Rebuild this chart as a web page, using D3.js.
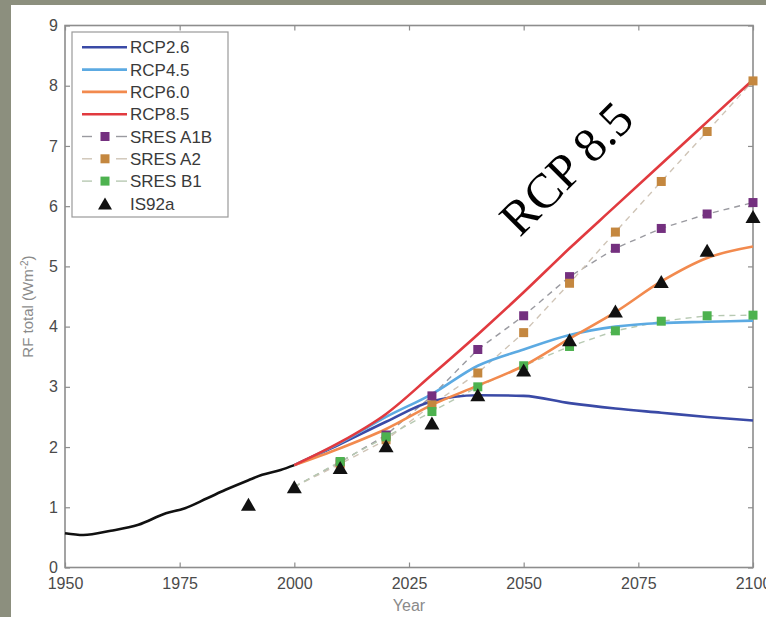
<!DOCTYPE html>
<html>
<head>
<meta charset="utf-8">
<script src="https://cdn.jsdelivr.net/npm/d3@7"></script>
<style>
  body { margin: 0; background: #8c8f7e; }
  svg { display: block; }
  text { font-family: "Liberation Sans", Arial, sans-serif; }
</style>
</head>
<body>
<svg id="chart" width="766" height="617"></svg>
<script>
// historical forcing (black line)
const histYears  = [1950, 1954, 1960, 1966, 1972, 1976, 1981, 1985, 1990, 1993, 1997, 2000]
const histValues = [0.57, 0.54, 0.61, 0.71, 0.90, 0.98, 1.15, 1.29, 1.45, 1.54, 1.62, 1.70]

// RCP pathways
const rcpYears = [2000, 2010, 2020, 2030, 2040, 2050, 2060, 2070, 2080, 2090, 2100]
const rcp26 = [1.70, 2.05, 2.42, 2.76, 2.86, 2.85, 2.73, 2.64, 2.57, 2.50, 2.44]
const rcp45 = [1.70, 2.07, 2.50, 2.88, 3.35, 3.62, 3.86, 4.00, 4.06, 4.08, 4.10]
const rcp60 = [1.70, 1.98, 2.30, 2.70, 3.02, 3.35, 3.80, 4.24, 4.75, 5.14, 5.33]
const rcp85 = [1.70, 2.08, 2.55, 3.20, 3.87, 4.57, 5.30, 6.00, 6.70, 7.40, 8.10]

// SRES scenarios (squares + dashed)
const sresYears = [2000, 2010, 2020, 2030, 2040, 2050, 2060, 2070, 2080, 2090, 2100]
const sresA1B = [1.34, 1.75, 2.20, 2.85, 3.62, 4.18, 4.83, 5.30, 5.63, 5.87, 6.06]
const sresA2  = [1.34, 1.72, 2.12, 2.70, 3.23, 3.90, 4.72, 5.57, 6.41, 7.24, 8.08]
const sresB1  = [1.34, 1.76, 2.17, 2.59, 3.00, 3.35, 3.67, 3.93, 4.09, 4.18, 4.19]

// IS92a (triangles)
const is92aYears  = [1990, 2000, 2010, 2020, 2030, 2040, 2050, 2060, 2070, 2080, 2090, 2100]
const is92aValues = [1.05, 1.34, 1.66, 2.02, 2.40, 2.87, 3.28, 3.78, 4.26, 4.75, 5.27, 5.83]

const xTicks = [1950, 1975, 2000, 2025, 2050, 2075, 2100]
const yTicks = [0, 1, 2, 3, 4, 5, 6, 7, 8, 9]

const rcpSeries = [
  { name: "RCP2.6", values: rcp26, color: "#3a4aa6" },
  { name: "RCP4.5", values: rcp45, color: "#5caae2" },
  { name: "RCP6.0", values: rcp60, color: "#f28a4e" },
  { name: "RCP8.5", values: rcp85, color: "#e13a3f" }
]
const sresSeries = [
  { name: "SRES A1B", values: sresA1B, color: "#74307f", dash: "#9a9aa0" },
  { name: "SRES A2",  values: sresA2,  color: "#c4873f", dash: "#cfc4b6" },
  { name: "SRES B1",  values: sresB1,  color: "#4db24f", dash: "#b7c9b2" }
]

const svg = d3.select("#chart")

// white slide panel
svg.append("rect").attr("x", 11).attr("y", 5).attr("width", 755).attr("height", 612).attr("fill", "#fff")

const margin = { top: 25.5, right: 13, bottom: 49.5, left: 65 }
const width = 766, height = 617
const innerW = width - margin.left - margin.right
const innerH = height - margin.top - margin.bottom

const x = d3.scaleLinear().domain([1950, 2100]).range([0, innerW])
const y = d3.scaleLinear().domain([0, 9]).range([innerH, 0])

const g = svg.append("g").attr("transform", `translate(${margin.left},${margin.top})`)

const axisColor = "#8d8d8d"

// axes, matlab style with inward ticks on all four sides
const styleAxis = sel => {
  sel.select(".domain").remove()
  sel.selectAll(".tick line").attr("stroke", axisColor).attr("stroke-width", 1.2)
  sel.selectAll(".tick text").attr("fill", "#4a4a4a").style("font-size", "16px")
    .style("font-family", '"Liberation Sans", Arial, sans-serif')
}

g.append("g").attr("transform", `translate(0,${innerH})`)
  .call(d3.axisBottom(x).tickValues(xTicks).tickFormat(d3.format("d")).tickSize(-5).tickPadding(10.5))
  .call(styleAxis)
g.append("g")
  .call(d3.axisTop(x).tickValues(xTicks).tickFormat("").tickSize(-5))
  .call(styleAxis)
g.append("g")
  .call(d3.axisLeft(y).tickValues(yTicks).tickSize(-5).tickPadding(7))
  .call(styleAxis)
g.append("g").attr("transform", `translate(${innerW},0)`)
  .call(d3.axisRight(y).tickValues(yTicks).tickFormat("").tickSize(-5))
  .call(styleAxis)

g.append("rect").attr("width", innerW).attr("height", innerH)
  .attr("fill", "none").attr("stroke", axisColor).attr("stroke-width", 1.6)

// axis titles
g.append("text").attr("x", innerW / 2).attr("y", innerH + 43)
  .attr("text-anchor", "middle").attr("fill", "#8a8a8a").style("font-size", "16px").text("Year")

const yt = g.append("text").attr("transform", `translate(-32,${innerH / 2 + 10}) rotate(-90)`)
  .attr("text-anchor", "middle").attr("fill", "#8a8a8a").style("font-size", "15px")
yt.append("tspan").text("RF total (Wm")
yt.append("tspan").attr("dy", -5).style("font-size", "10px").text("-2")
yt.append("tspan").attr("dy", 5).text(")")

const smooth = d3.line().x(d => x(d[0])).y(d => y(d[1])).curve(d3.curveMonotoneX)
const straight = d3.line().x(d => x(d[0])).y(d => y(d[1]))

// historical
g.append("path").datum(d3.zip(histYears, histValues)).attr("d", smooth)
  .attr("fill", "none").attr("stroke", "#111").attr("stroke-width", 2.6)

// SRES dashed connectors
sresSeries.forEach(s => {
  g.append("path").datum(d3.zip(sresYears, s.values)).attr("d", straight)
    .attr("fill", "none").attr("stroke", s.dash).attr("stroke-width", 1.4)
    .attr("stroke-dasharray", "6,5")
})

// RCP lines
rcpSeries.forEach(s => {
  g.append("path").datum(d3.zip(rcpYears, s.values)).attr("d", smooth)
    .attr("fill", "none").attr("stroke", s.color).attr("stroke-width", 2.6)
})

// SRES squares (no marker at 2000, hidden behind IS92a there)
const sq = 9
sresSeries.forEach(s => {
  g.append("g").selectAll("rect")
    .data(d3.zip(sresYears, s.values).filter(d => d[0] > 2000))
    .join("rect")
    .attr("x", d => x(d[0]) - sq / 2).attr("y", d => y(d[1]) - sq / 2)
    .attr("width", sq).attr("height", sq).attr("fill", s.color)
})

// IS92a triangles
const tri = (w, h) => `M0,${-h / 2}L${w / 2},${h / 2}L${-w / 2},${h / 2}Z`
g.append("g").selectAll("path")
  .data(d3.zip(is92aYears, is92aValues))
  .join("path")
  .attr("transform", d => `translate(${x(d[0])},${y(d[1])})`)
  .attr("d", tri(15, 13)).attr("fill", "#111")

// big annotation
svg.append("text").attr("transform", "translate(570,172) rotate(-45)")
  .attr("text-anchor", "middle").attr("dominant-baseline", "middle")
  .style("font-family", '"Liberation Serif", "Times New Roman", serif')
  .style("font-size", "49px").attr("fill", "#000").text("RCP 8.5")

// legend
const legend = svg.append("g").attr("transform", "translate(72,32)")
legend.append("rect").attr("width", 156).attr("height", 185)
  .attr("fill", "#fff").attr("stroke", "#9a9a9a").attr("stroke-width", 1.2)

const rowY = i => 15.3 + i * 22.3
const entries = rcpSeries.map(s => ({ ...s, kind: "line" }))
  .concat(sresSeries.map(s => ({ ...s, kind: "square" })))
  .concat([{ name: "IS92a", kind: "triangle", color: "#111" }])

entries.forEach((e, i) => {
  const row = legend.append("g").attr("transform", `translate(0,${rowY(i)})`)
  if (e.kind === "line") {
    row.append("line").attr("x1", 10).attr("x2", 55).attr("stroke", e.color).attr("stroke-width", 2.6)
  } else if (e.kind === "square") {
    row.append("line").attr("x1", 10).attr("x2", 20).attr("stroke", e.dash).attr("stroke-width", 1.4)
    row.append("line").attr("x1", 44).attr("x2", 55).attr("stroke", e.dash).attr("stroke-width", 1.4)
    row.append("rect").attr("x", 33 - sq / 2).attr("y", -sq / 2).attr("width", sq).attr("height", sq).attr("fill", e.color)
  } else {
    row.append("path").attr("transform", "translate(33,0)").attr("d", tri(14, 12)).attr("fill", e.color)
  }
  row.append("text").attr("x", 58).attr("dy", "0.36em").attr("fill", "#3a3a3a")
    .style("font-size", "17px").text(e.name)
})
</script>
</body>
</html>
